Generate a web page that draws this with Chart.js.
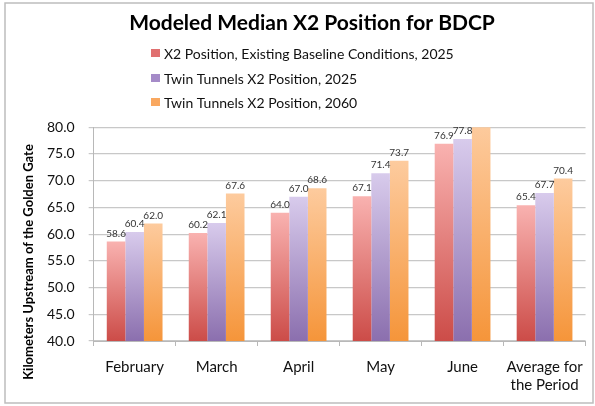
<!DOCTYPE html>
<html>
<head>
<meta charset="utf-8">
<script src="https://cdn.jsdelivr.net/npm/chart.js@4.4.1/dist/chart.umd.min.js"></script>
<style>
  html, body { margin: 0; padding: 0; background: #fff; }
  #myChart { display: block; }
</style>
</head>
<body>
<canvas id="myChart" width="595" height="406"></canvas>
<script>
// chart data
var months = ['February', 'March', 'April', 'May', 'June', ['Average for', 'the Period']];
var seriesNames = [
    'X2 Position, Existing Baseline Conditions, 2025',
    'Twin Tunnels X2 Position, 2025',
    'Twin Tunnels X2 Position, 2060'
];
var baseline2025 = [58.6, 60.2, 64.0, 67.1, 76.9, 65.4];
var tunnels2025 = [60.4, 62.1, 67.0, 71.4, 77.8, 67.7];
var tunnels2060 = [62.0, 67.6, 68.6, 73.7, 80.6, 70.4];
var yTicks = [40, 45, 50, 55, 60, 65, 70, 75, 80];

function barFill(topColor, bottomColor) {
    return function (ctx) {
        var chart = ctx.chart;
        if (!chart.chartArea || ctx.type !== 'data') return bottomColor;
        var y = chart.scales.y;
        var yTop = y.getPixelForValue(ctx.raw);
        var yBase = y.getPixelForValue(y.min);
        var g = chart.ctx.createLinearGradient(0, yTop, 0, yBase);
        g.addColorStop(0, topColor);
        g.addColorStop(1, bottomColor);
        return g;
    };
}

// value labels above bars, legend and y title drawn by hand
var extrasPlugin = {
    id: 'extras',
    afterDatasetsDraw: function (chart) {
        var c = chart.ctx;
        var yMax = chart.scales.y.max;
        c.save();
        c.font = '10px Lato';
        c.fillStyle = '#333';
        c.textAlign = 'center';
        c.textBaseline = 'bottom';
        chart.data.datasets.forEach(function (ds, i) {
            var meta = chart.getDatasetMeta(i);
            meta.data.forEach(function (bar, j) {
                var v = ds.data[j];
                if (v > yMax) return;
                c.fillText(v.toFixed(1), bar.x, bar.y - 3);
            });
        });
        c.restore();
    },
    afterDraw: function (chart) {
        var c = chart.ctx;
        c.save();
        // legend
        var swatches = ['#e07070', '#a58bc8', '#f9a860'];
        var rowY = [53, 78, 102];
        c.font = '14px Lato';
        c.textBaseline = 'middle';
        c.textAlign = 'left';
        chart.data.datasets.forEach(function (ds, i) {
            c.fillStyle = swatches[i];
            c.fillRect(151, rowY[i] - 4, 9, 8);
            c.fillStyle = '#111';
            c.fillText(ds.label, 164, rowY[i] + 1);
        });
        // y axis title
        c.translate(29, 262);
        c.rotate(-Math.PI / 2);
        c.textAlign = 'center';
        c.font = 'bold 13px Lato';
        c.fillStyle = '#000';
        c.fillText('Kilometers Upstream of the Golden Gate', 0, 0);
        c.restore();
        // outer border
        c.save();
        c.strokeStyle = '#bdbdbd';
        c.lineWidth = 1.5;
        c.strokeRect(5, 3, 588, 400);
        c.restore();
    }
};

window.onload = function () {
    Chart.defaults.font.family = 'Lato';
    var ctx = document.getElementById('myChart').getContext('2d');
    new Chart(ctx, {
        type: 'bar',
        data: {
            labels: months,
            datasets: [{
                label: seriesNames[0],
                data: baseline2025,
                backgroundColor: barFill('#f9b2b0', '#cc4c48')
            },
            {
                label: seriesNames[1],
                data: tunnels2025,
                backgroundColor: barFill('#d8cbec', '#8b6fae')
            },
            {
                label: seriesNames[2],
                data: tunnels2060,
                backgroundColor: barFill('#fdcb9e', '#f5953a')
            }]
        },
        options: {
            responsive: false,
            animation: false,
            layout: { padding: { left: 33, right: 4, top: 0, bottom: 0 } },
            datasets: {
                bar: { barPercentage: 1, categoryPercentage: 0.68 }
            },
            plugins: {
                legend: { display: false },
                tooltip: { enabled: false },
                title: {
                    display: true,
                    text: 'Modeled Median X2 Position for BDCP',
                    color: '#000',
                    font: { size: 21, weight: 'bold' },
                    padding: { top: 11, bottom: 91 }
                }
            },
            scales: {
                x: {
                    offset: true,
                    grid: {
                        offset: true,
                        drawOnChartArea: false,
                        drawTicks: true,
                        tickLength: 5,
                        color: '#b8b8b8'
                    },
                    border: { color: '#b8b8b8' },
                    ticks: { color: '#111', font: { size: 15 }, padding: 12 }
                },
                y: {
                    min: yTicks[0],
                    max: yTicks[yTicks.length - 1],
                    afterBuildTicks: function (axis) {
                        axis.ticks = yTicks.map(function (v) { return { value: v }; });
                    },
                    grid: { color: '#c8c8c8', tickLength: 5, lineWidth: 1.2 },
                    border: { color: '#b8b8b8' },
                    ticks: {
                        color: '#111',
                        font: { size: 14 },
                        padding: 14,
                        callback: function (v) { return Number(v).toFixed(1); }
                    }
                }
            }
        },
        plugins: [extrasPlugin]
    });
};
</script>
</body>
</html>
